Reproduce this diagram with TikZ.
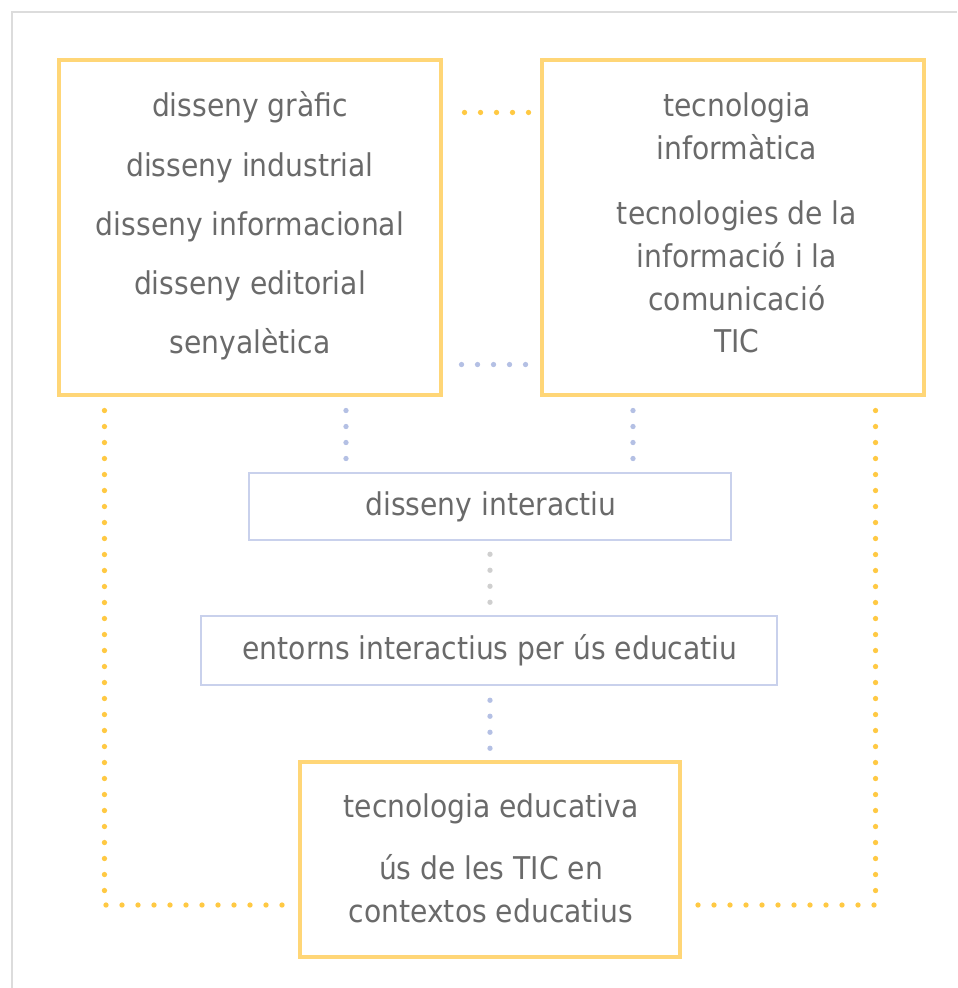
\documentclass[tikz,border=0pt]{standalone}
\usepackage{fontspec}
\setmainfont{DejaVu Sans Condensed}
\usetikzlibrary{calc}
\definecolor{ybox}{HTML}{FFD677}
\definecolor{ydot}{HTML}{FFC943}
\definecolor{bbox}{HTML}{C9D1EC}
\definecolor{bdot}{HTML}{B4C0E4}
\definecolor{gdot}{HTML}{CFCFCF}
\definecolor{framec}{HTML}{DCDCDC}
\definecolor{txt}{HTML}{6A6A6A}
\begin{document}
\begin{tikzpicture}[x=0.75pt,y=-0.75pt,
 ybx/.style={draw=ybox,line width=2.3pt,inner sep=0pt},
 bbx/.style={draw=bbox,line width=1.9pt,inner sep=0pt},
 lbl/.style={text=txt,font=\fontsize{23.5pt}{28pt}\selectfont,anchor=base,inner sep=0pt},
 dots/.style={line width=4pt,line cap=round,dash pattern=on 0pt off 12pt},
]
\useasboundingbox (0,0) rectangle (957,988);
\draw[framec,line width=1.6pt] (12,988) -- (12,12) -- (957,12);

\node[ybx,minimum width=286.5pt,minimum height=251.25pt] (A) at (250,227.5) {};
\node[ybx,minimum width=286.5pt,minimum height=251.25pt] (B) at (733,227.5) {};
\node[bbx,minimum width=361.5pt,minimum height=50.25pt] (C) at (490,506.5) {};
\node[bbx,minimum width=432pt,minimum height=51.75pt] (D) at (489,650.5) {};
\node[ybx,minimum width=285pt,minimum height=146.25pt] (E) at (490,859.5) {};

\node[lbl] (a1) at (250,117) {disseny gràfic};
\node[lbl] (a2) at (250,176) {disseny industrial};
\node[lbl] (a3) at (250,235) {disseny informacional};
\node[lbl] (a4) at (250,294) {disseny editorial};
\node[lbl] (a5) at (250,353) {senyalètica};

\node[lbl] (b1) at (737,117) {tecnologia};
\node[lbl] (b2) at (737,160) {informàtica};
\node[lbl] (b3) at (737,224) {tecnologies de la};
\node[lbl] (b4) at (737,267) {informació i la};
\node[lbl] (b5) at (737,310) {comunicació};
\node[lbl] (b6) at (737,352) {TIC};

\node[lbl] (c1) at (491,515) {disseny interactiu};
\node[lbl] (d1) at (490,659) {entorns interactius per ús educatiu};

\node[lbl] (e1) at (491,817) {tecnologia educativa};
\node[lbl] (e2) at (491,879) {ús de les TIC en};
\node[lbl] (e3) at (491,922) {contextos educatius};

% connectors (ends run a little past the last dot so that it is drawn)
\draw[dots,ydot] ($(A.north east)+(22,54)$) -- ($(B.north west)+(-8,54)$);
\draw[dots,bdot] ($(A.south east)+(19,-32)$) -- ($(B.south west)+(-11,-32)$);
\draw[dots,bdot] ($(A.south)+(96,14)$) -- ($(C.north)+(-144,-8)$);
\draw[dots,bdot] ($(B.south)+(-100,14)$) -- ($(C.north)+(143,-8)$);
\draw[dots,gdot] ($(C.south)+(0,13)$) -- ($(D.north)+(1,-8)$);
\draw[dots,bdot] ($(D.south)+(1,14)$) -- ($(E.north)+(0,-8)$);
\draw[dots,ydot] ($(A.south west)+(47,14)$) |- ($(E.west)+(-11,45.5)$);
\draw[dots,ydot] ($(B.south east)+(-50,14)$) |- ($(E.east)+(11,45.5)$);
\end{tikzpicture}
\end{document}
